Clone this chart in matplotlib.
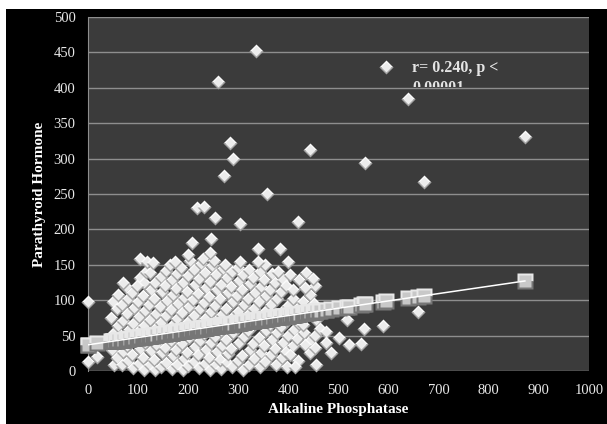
import matplotlib
matplotlib.use("Agg")
import matplotlib.pyplot as plt
from matplotlib.patches import Rectangle
from matplotlib.transforms import Bbox, TransformedBbox

plt.rcParams['font.family'] = ['Liberation Serif', 'DejaVu Serif']

# Alkaline phosphatase (x) vs parathyroid hormone (y), the scattered high values
alp_high = [0, 0, 18, 70, 97, 104, 117, 130, 174, 200, 207, 217, 232, 243, 245,
            253, 259, 271, 283, 290, 303, 303, 335, 340, 340, 357, 380, 383, 400,
            403, 403, 410, 413, 420, 430, 433, 433, 436, 443, 444, 450, 453, 456,
            475, 476, 486, 500, 516, 520, 544, 551, 553, 588, 594, 638, 659, 671, 872]
pth_high = [98, 13, 20, 124, 120, 158, 154, 152, 154, 164, 181, 230, 231, 166, 186,
            216, 408, 275, 322, 300, 207, 154, 452, 173, 154, 250, 140, 173, 154,
            136, 23, 114, 6, 210, 65, 117, 37, 139, 25, 312, 130, 33, 9,
            55, 39, 26, 46, 72, 37, 38, 60, 294, 63, 430, 384, 83, 267, 330]

# the dense bulk of patients
alp_bulk = [
    47, 50, 46, 49, 52,
    58, 56, 60, 57, 59,
    67, 69, 66, 70, 68,
    79, 77, 81, 78, 80, 76,
    90, 88, 92, 89, 91, 87,
    101, 103, 99, 102, 100, 104,
    112, 110, 114, 111, 113, 109, 112, 115,
    123, 125, 121, 124, 122, 126, 123,
    134, 132, 136, 133, 135, 131, 134,
    145, 147, 143, 146, 144, 148, 145,
    156, 154, 158, 155, 157, 153, 156,
    167, 169, 165, 168, 166, 170, 167, 164,
    178, 176, 180, 177, 179, 175, 178,
    189, 191, 187, 190, 188, 192, 189, 186,
    200, 198, 202, 199, 201, 197, 200, 203,
    211, 213, 209, 212, 210, 214, 211,
    222, 220, 224, 221, 223, 219, 222, 225,
    233, 235, 231, 234, 232, 236, 233, 230,
    244, 242, 246, 243, 245, 241, 244, 247,
    255, 257, 253, 256, 254, 258, 255, 252,
    266, 264, 268, 265, 267, 263, 266, 269,
    277, 279, 275, 278, 276, 280, 277, 274,
    288, 286, 290, 287, 289, 285, 288,
    299, 301, 297, 300, 298, 302, 299,
    310, 308, 312, 309, 311, 307, 310,
    321, 323, 319, 322, 320, 324, 321,
    332, 330, 334, 331, 333, 329,
    343, 345, 341, 344, 342, 346, 343,
    354, 352, 356, 353, 355, 351, 354,
    365, 367, 363, 366, 364, 368,
    376, 374, 378, 375, 377, 373,
    387, 389, 385, 388, 386, 390,
    398, 396, 400, 397, 399, 395,
    409, 411, 407, 410,
    420, 418, 422, 419, 421,
    431, 433, 429,
    442, 440, 444,
    453, 455, 451, 454,
    464, 462,
]
pth_bulk = [
    30, 52, 75, 98, 9,
    18, 40, 64, 88, 108,
    8, 27, 49, 71, 93,
    14, 36, 58, 80, 102, 118,
    4, 22, 45, 67, 89, 110,
    10, 31, 55, 76, 98, 132,
    2, 19, 40, 63, 85, 106, 125, 140,
    8, 28, 50, 72, 93, 115, 138,
    1, 16, 37, 59, 81, 102, 124,
    6, 25, 46, 68, 90, 112, 133,
    12, 33, 55, 77, 99, 120, 141,
    3, 21, 42, 64, 86, 108, 128, 150,
    9, 29, 51, 73, 95, 116, 137,
    2, 17, 38, 60, 82, 103, 125, 146,
    7, 26, 47, 69, 91, 112, 134, 155,
    13, 34, 56, 78, 100, 121, 143,
    4, 22, 43, 65, 87, 109, 130, 151,
    10, 30, 52, 74, 96, 117, 139, 158,
    1, 18, 39, 61, 83, 105, 126, 148,
    8, 27, 48, 70, 92, 114, 135, 155,
    3, 15, 35, 57, 79, 101, 122, 144,
    11, 24, 44, 66, 88, 110, 131, 150,
    5, 31, 53, 75, 97, 118, 140,
    14, 40, 62, 84, 106, 127, 146,
    2, 21, 48, 71, 93, 114, 135,
    9, 30, 57, 80, 101, 123, 142,
    17, 38, 66, 88, 110, 131,
    5, 26, 47, 75, 97, 119, 140,
    13, 35, 56, 84, 106, 128, 150,
    22, 44, 65, 93, 115, 137,
    8, 31, 53, 74, 102, 124,
    18, 40, 62, 83, 111, 128,
    6, 27, 49, 71, 92, 120,
    36, 58, 80, 101,
    14, 45, 67, 89, 128,
    54, 76, 98,
    41, 85, 107,
    50, 72, 94, 120,
    59, 81,
]

# linear trend line
fit_intercept = 37.0
fit_slope = 0.1034
stats_text = "r= 0.240, p <\n0.00001"

alp = alp_bulk + alp_high
pth = pth_bulk + pth_high

W, H = 607, 424
fig = plt.figure(figsize=(W / 100, H / 100), dpi=100)
fig.patch.set_facecolor('white')
fig.add_artist(Rectangle((6 / W, 0), 1, (H - 9) / H, transform=fig.transFigure,
                         facecolor='black', edgecolor='none', zorder=0))

ax = fig.add_axes([88 / W, 53 / H, 501 / W, 354 / H])
ax.set_facecolor('#3b3b3b')
ax.set_xlim(0, 1000)
ax.set_ylim(0, 500)
ax.set_xticks(range(0, 1001, 100))
ax.set_yticks(range(0, 501, 50))
ax.grid(axis='y', color='#8e8e8e', linewidth=1.0)
ax.set_axisbelow(True)
for side in ['top', 'right', 'bottom']:
    ax.spines[side].set_visible(False)
ax.spines['left'].set_color('#8e8e8e')
ax.tick_params(length=0, colors='#e8e8e8', labelsize=10.5, pad=9)

# bevelled diamonds, one point at a time so overlaps stack like the original
for x, y in zip(alp, pth):
    ax.plot(x, y, marker='D', ms=7.5, fillstyle='top', mfc='#fafafa',
            mfcalt='#a4a4a4', mec='none', clip_on=False, zorder=3)
    ax.plot(x, y, marker='D', ms=5.0, mfc='#ececec', mec='none',
            clip_on=False, zorder=3)

# predicted values as squares plus the trend line
xs = sorted(alp)
pred = [fit_intercept + fit_slope * x for x in xs]
for x, y in zip(xs, pred):
    ax.plot(x, y, marker='s', ms=11, fillstyle='top', mfc='#e8e8e8',
            mfcalt='#767676', mec='none', clip_on=False, zorder=4)
    ax.plot(x, y, marker='s', ms=8.0, mfc='#c8c8c8', mec='none',
            clip_on=False, zorder=4)
ax.plot(xs, pred, color='white', linewidth=1.1, zorder=5)

# correlation note, cut off by the 400 gridline
txt = ax.text(647, 439, stats_text, color='#e4e4e4', fontsize=11.5,
              fontweight='bold', va='top', ha='left', linespacing=1.3,
              zorder=6)
txt.set_clip_box(TransformedBbox(Bbox([[0, 401], [1000, 500]]), ax.transData))
txt.set_clip_on(True)

fig.text(338.5 / W, 1 - 410 / H, 'Alkaline Phosphatase', color='white',
         fontsize=11, fontweight='bold', ha='center', va='center')
fig.text(40 / W, 1 - 194 / H, 'Parathyroid Hormone', color='white',
         fontsize=11, fontweight='bold', ha='center', va='center', rotation=90)

fig.savefig('out.png', dpi=100, facecolor=fig.get_facecolor())
